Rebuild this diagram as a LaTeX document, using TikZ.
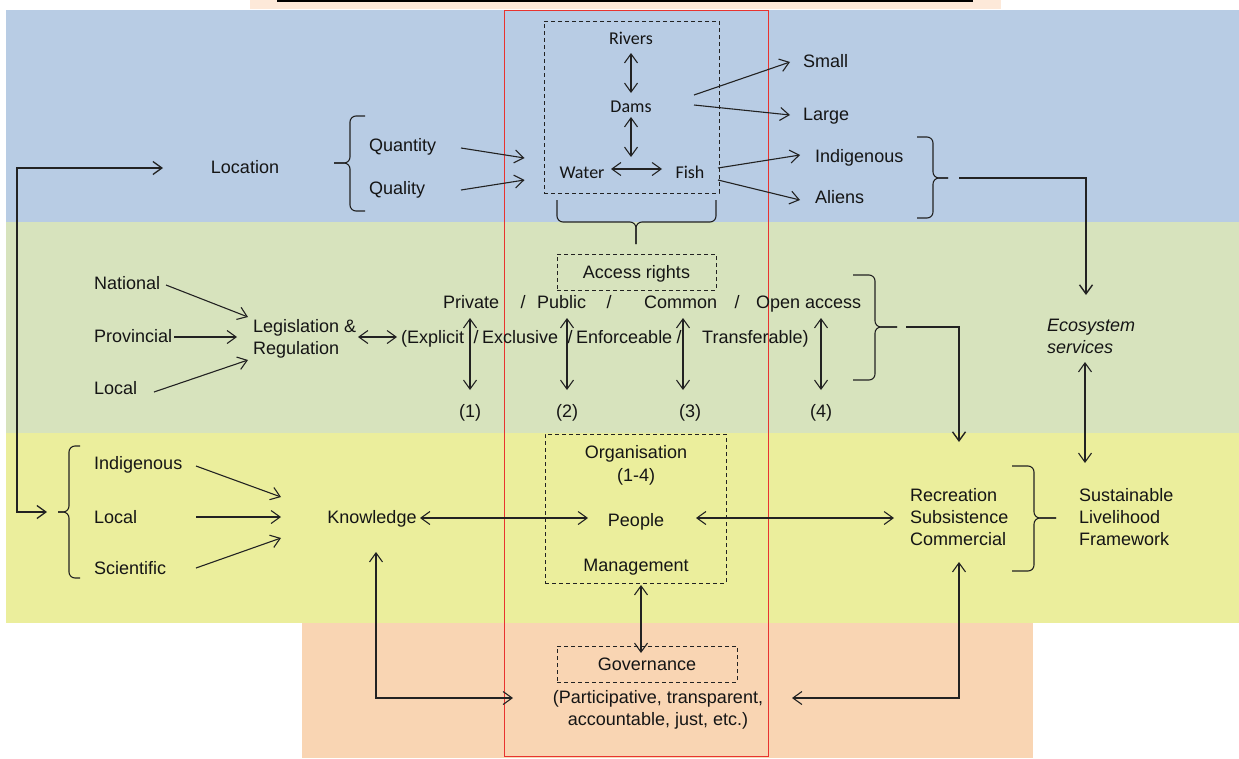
\documentclass[tikz,border=0pt]{standalone}
\usepackage{fontspec}
\setmainfont{Liberation Sans}
\newfontfamily\carl{Carlito}
\usetikzlibrary{arrows.meta,calc}
\definecolor{bandblue}{HTML}{B8CCE4}
\definecolor{bandgreen}{HTML}{D7E3BD}
\definecolor{bandyellow}{HTML}{EBEE9C}
\definecolor{bandpeach}{HTML}{F9D5B3}
\definecolor{toppeach}{HTML}{FDE9D9}
\definecolor{linec}{HTML}{222222}
\definecolor{txt}{HTML}{151515}
\definecolor{redline}{HTML}{E8332F}
\newcommand{\fs}{\fontsize{18pt}{22pt}\selectfont}
\tikzset{
  lbl/.style={font=\fs, inner sep=0pt, text height=13pt, text depth=0pt, text=txt},
  ml/.style={font=\fs, inner sep=0pt, align=left, text=txt},
  carl/.style={font=\carl\fs, inner sep=0pt, text height=11.6pt, text depth=0pt, text=txt},
  dbox/.style={draw=linec, dash pattern=on 4pt off 3pt, line width=1pt},
  tipa/.tip={Straight Barb[length=9pt,width=13pt]},
  arr/.style={-tipa, line width=1.1pt, draw=linec},
  darr/.style={tipa-tipa, line width=1.1pt, draw=linec},
  brk/.style={rounded corners=6pt, line width=1.1pt, draw=linec},
  band/.style={draw=none, fill=#1},
}
\begin{document}
\begin{tikzpicture}[x=1pt,y=-1pt]
\useasboundingbox (0,0) rectangle (1239,758);
% backgrounds
\fill[white] (0,0) rectangle (1239,758);
\fill[toppeach] (250,0) rectangle (1001,9);
\draw[line width=1.5pt, black] (277,0.8) -- (973,0.8);
\path[band=bandblue] (6,10) rectangle (1239,222);
\path[band=bandgreen] (6,222) rectangle (1239,433);
\path[band=bandyellow] (6,433) rectangle (1239,623);
\path[band=bandpeach] (302,623) rectangle (1033,758);
\draw[redline, line width=1pt] (504,10) rectangle (768,756);

% ---------- top band ----------
\node[lbl] (loc) at (245,167) {Location};
\node[lbl,anchor=west] (qty) at (369,145) {Quantity};
\node[lbl,anchor=west] (qly) at (369,188) {Quality};
\node[dbox, minimum width=175pt, minimum height=172pt, inner sep=0pt] (envbox) at (631.5,107) {};
\node[carl] (rivers) at (631,39) {Rivers};
\node[carl] (dams) at (631,107) {Dams};
\node[carl] (water) at (582,173) {Water};
\node[carl] (fish) at (690,173) {Fish};
\node[lbl,anchor=west] (small) at (803,61) {Small};
\node[lbl,anchor=west] (large) at (803,114) {Large};
\node[lbl,anchor=west] (indig) at (815,156) {Indigenous};
\node[lbl,anchor=west] (aliens) at (815,197) {Aliens};
\coordinate (wfpair) at (631,157);
\coordinate (iabr) at (948,178);

% ---------- green band ----------
\node[lbl,dbox, minimum width=159pt, minimum height=36pt] (access) at (636.5,272) {Access rights};
\node[lbl,anchor=west] (national) at (94,283) {National};
\node[lbl,anchor=west] (provincial) at (94,336) {Provincial};
\node[lbl,anchor=west] (localA) at (94,388) {Local};
\node[ml,anchor=west] (legis) at (253,338.5) {Legislation \&\\Regulation};
\node[lbl,anchor=west] (private) at (443,302) {Private};
\node[lbl] (sl1) at (523,302) {/};
\node[lbl,anchor=west] (public) at (537,302) {Public};
\node[lbl] (sl2) at (609,302) {/};
\node[lbl,anchor=west] (common) at (644,302) {Common};
\node[lbl] (sl3) at (737,302) {/};
\node[lbl,anchor=west] (open) at (756,302) {Open access};
\node[lbl,anchor=west] (explicit) at (401,337) {(Explicit};
\node[lbl] (sl4) at (476,337) {/};
\node[lbl,anchor=west] (exclusive) at (482,337) {Exclusive};
\node[lbl] (sl5) at (570,337) {/};
\node[lbl,anchor=west] (enforce) at (576,337) {Enforceable};
\node[lbl] (sl6) at (679,337) {/};
\node[lbl,anchor=west] (transfer) at (702,337) {Transferable)};
\node[lbl] (n1) at (470,411) {(1)};
\node[lbl] (n2) at (567,411) {(2)};
\node[lbl] (n3) at (690,411) {(3)};
\node[lbl] (n4) at (821,411) {(4)};
\node[ml,anchor=west,font=\fs\itshape] (eco) at (1047,336) {Ecosystem\\services};
\coordinate (acbr) at (897,327);

% ---------- yellow band ----------
\node[lbl,anchor=west] (indigK) at (94,463) {Indigenous};
\node[lbl,anchor=west] (localK) at (94,517) {Local};
\node[lbl,anchor=west] (sci) at (94,568) {Scientific};
\coordinate (kbr) at (58,512);
\coordinate (leftrail) at (17,300);
\node[lbl] (know) at (372,517) {Knowledge};
\node[dbox, minimum width=181pt, minimum height=149pt, inner sep=0pt] (orgbox) at (635.5,508.5) {};
\node[lbl] (org) at (636,452) {Organisation};
\node[lbl] (n14) at (636,475) {(1-4)};
\node[lbl] (people) at (636,520) {People};
\node[lbl] (mgmt) at (636,565) {Management};
\node[ml,anchor=west] (rsc) at (910,517) {Recreation\\Subsistence\\Commercial};
\node[ml,anchor=west] (slf) at (1079,517) {Sustainable\\Livelihood\\Framework};

% ---------- peach band ----------
\node[lbl,dbox,minimum width=180pt,minimum height=36pt] (gov) at (647,664) {Governance};
\node[ml,align=center] (govd) at (658,710) {(Participative, transparent,\\accountable, just, etc.)};

% ---------- braces ----------
% Quantity / Quality (tip west)
\draw[brk] (365,116) -- (350,116) -- (350,163) -- (334,163);
\draw[brk] (365,211) -- (350,211) -- (350,163) -- (334,163);
% under the rivers box (tip south)
\draw[brk] (557,200) -- (557,222) -- (636,222) -- (636,244);
\draw[brk] (716,200) -- (716,222) -- (636,222) -- (636,244);
% Indigenous / Aliens (tip east)
\draw[brk] (917,137) -- (933,137) -- (933,178) -- (iabr);
\draw[brk] (917,218) -- (933,218) -- (933,178) -- (iabr);
% access rights (tip east)
\draw[brk] (853,275) -- (875,275) -- (875,327) -- (acbr);
\draw[brk] (853,380) -- (875,380) -- (875,327) -- (acbr);
% knowledge sources (tip west)
\draw[brk] (80,446) -- (69,446) -- (69,512) -- (kbr);
\draw[brk] (80,578) -- (69,578) -- (69,512) -- (kbr);
% recreation (tip east)
\draw[brk] (1012,466) -- (1034,466) -- (1034,518) -- (1056,518);
\draw[brk] (1012,571) -- (1034,571) -- (1034,518) -- (1056,518);

% ---------- connectors: top ----------
\draw[arr] ($(qty.west)+(92,3)$) -- ($(envbox.west)+(-19,51)$);
\draw[arr] ($(qly.west)+(92,2)$) -- ($(envbox.west)+(-19,73)$);
\draw[darr] ($(rivers)+(0,14)$) -- ($(dams)+(0,-14)$);
\draw[darr] ($(dams)+(0,10)$) -- (wfpair);
\draw[darr] ($(water)+(29,-4)$) -- ($(fish)+(-28,-4)$);
\draw[arr] ($(dams)+(63,-12)$) -- ($(small.west)+(-13,1)$);
\draw[arr] ($(dams)+(63,-2)$) -- ($(large.west)+(-13,1)$);
\draw[arr] ($(fish)+(28,-5)$) -- ($(indig.west)+(-15,-1)$);
\draw[arr] ($(fish)+(28,7)$) -- ($(aliens.west)+(-15,3)$);
\draw[arr, line width=1.4pt] ($(iabr)+(11,0)$) -| ($(eco.west)+(39,-41)$);
\draw[darr, line width=1.3pt] ($(loc)+(-82,1)$) -| (leftrail) |- ($(kbr)+(-11,0)$);

% ---------- connectors: green ----------
\draw[arr] ($(national.west)+(72,2)$) -- ($(legis.west)+(-5,-21.5)$);
\draw[arr] ($(provincial.west)+(80,1)$) -- ($(legis.west)+(-16,-1.5)$);
\draw[arr] ($(localA.west)+(60,4)$) -- ($(legis.west)+(-5,21.5)$);
\draw[darr] ($(legis.west)+(105,-1.5)$) -- ($(explicit.west)+(-4,0)$);
\draw[darr] ($(private.west)+(27,16)$) -- ($(n1)+(0,-21)$);
\draw[darr] ($(public.west)+(30,16)$) -- ($(n2)+(0,-21)$);
\draw[darr] ($(common.west)+(39,16)$) -- ($(n3)+(-7,-21)$);
\draw[darr] ($(open.west)+(65,16)$) -- ($(n4)+(0,-21)$);
\draw[arr, line width=1.4pt] ($(acbr)+(9,0)$) -| ($(rsc.west)+(49,-75)$);
\draw[darr] ($(eco.west)+(38,26)$) -- ($(slf.west)+(6,-54)$);

% ---------- connectors: yellow / peach ----------
\draw[arr] ($(indigK.west)+(102,3)$) -- ($(know)+(-91,-20)$);
\draw[arr] ($(localK.west)+(102,0)$) -- ($(know)+(-91,0)$);
\draw[arr] ($(sci.west)+(102,0)$) -- ($(know)+(-91,21)$);
\draw[darr] ($(know)+(48,1)$) -- ($(people)+(-48,-2)$);
\draw[darr] ($(people)+(60,-2)$) -- ($(rsc.west)+(-16,1)$);
\draw[darr] ($(mgmt)+(5,20)$) -- ($(gov)+(-6,-11)$);
\draw[darr] ($(know)+(4,35)$) |- ($(govd)+(-145,-12)$);
\draw[darr] ($(rsc.west)+(49,45)$) |- ($(govd)+(134,-12)$);
\end{tikzpicture}
\end{document}
